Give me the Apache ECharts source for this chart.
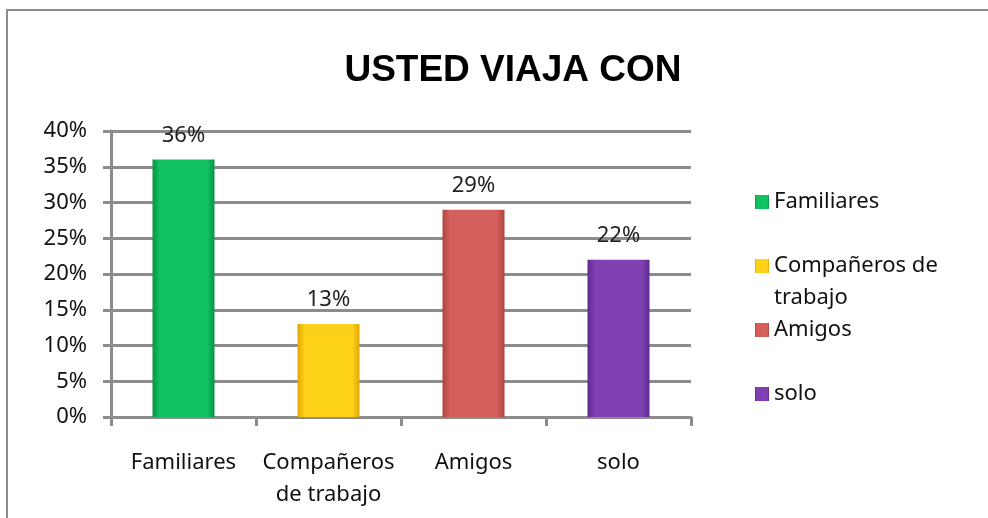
<!DOCTYPE html>
<html>
<head>
<meta charset="utf-8">
<script src="https://cdn.jsdelivr.net/npm/echarts@6/dist/echarts.min.js"></script>
<style>
  html, body { margin: 0; padding: 0; background: #fff; }
  #chart { width: 988px; height: 518px; }
</style>
</head>
<body>
<div id="chart"></div>
<script>
var titulo = 'USTED VIAJA CON';
var categorias = ['Familiares', 'Compañeros de trabajo', 'Amigos', 'solo'];
var porcentajes = [36, 13, 29, 22];
var yTicks = [0, 5, 10, 15, 20, 25, 30, 35, 40];

// colores de las barras (borde oscuro, centro claro)
var colores = [
    ['#079446', '#12c260'],
    ['#e0a800', '#ffd21a'],
    ['#b04440', '#d4605c'],
    ['#5e2a8c', '#8040b4']
];

var myChart = echarts.init(document.getElementById('chart'));

var series = categorias.map(function(nombre, i) {
    var datos = categorias.map(function(c, j) { return j === i ? porcentajes[i] : null; });
    return {
        name: nombre,
        type: 'bar',
        stack: 'total',
        barWidth: 62,
        data: datos,
        itemStyle: {
            color: new echarts.graphic.LinearGradient(0, 0, 1, 0, [
                {offset: 0, color: colores[i][0]},
                {offset: 0.12, color: colores[i][1]},
                {offset: 0.88, color: colores[i][1]},
                {offset: 1, color: colores[i][0]}
            ])
        },
        label: {
            show: true,
            position: 'top',
            distance: 13,
            formatter: '{c}%',
            fontFamily: 'Noto Sans',
            fontSize: 22,
            color: '#222'
        }
    };
});

var legendTops = [181, 213, 309, 373];
var legends = categorias.map(function(nombre, i) {
    return {
        data: [nombre],
        orient: 'vertical',
        left: 750,
        top: legendTops[i],
        icon: 'rect',
        itemWidth: 14,
        itemHeight: 14,
        selectedMode: false,
        formatter: function(n) {
            if (n === 'Compañeros de trabajo') return ' \nCompañeros de\ntrabajo';
            return n;
        },
        textStyle: {
            fontFamily: 'Noto Sans',
            fontSize: 22,
            lineHeight: 32,
            color: '#111'
        }
    };
});

var option = {
    animation: false,
    title: {
        text: titulo,
        left: 508,
        textAlign: 'center',
        top: 47,
        textStyle: {
            fontFamily: 'Liberation Sans',
            fontWeight: 'bold',
            fontSize: 37,
            color: '#000'
        }
    },
    graphic: [{
        type: 'rect',
        shape: {x: 7, y: 10, width: 1000, height: 600},
        style: {fill: 'none', stroke: '#8c8c8c', lineWidth: 2}
    }],
    legend: legends,
    grid: {left: 111, right: 297, top: 131, bottom: 101},
    xAxis: {
        type: 'category',
        data: categorias,
        axisLine: {lineStyle: {color: '#8c8c8c', width: 3}},
        axisTick: {show: true, length: 9, lineStyle: {color: '#8c8c8c', width: 3}},
        axisLabel: {
            interval: 0,
            margin: 30,
            fontFamily: 'Noto Sans',
            fontSize: 22,
            lineHeight: 32,
            color: '#111',
            formatter: function(v) {
                return v === 'Compañeros de trabajo' ? 'Compañeros\nde trabajo' : v;
            }
        }
    },
    yAxis: {
        type: 'value',
        min: yTicks[0],
        max: yTicks[yTicks.length - 1],
        interval: yTicks[1] - yTicks[0],
        axisLine: {show: true, lineStyle: {color: '#8c8c8c', width: 3}},
        axisTick: {show: true, length: 8, lineStyle: {color: '#8c8c8c', width: 3}},
        splitLine: {lineStyle: {color: '#8c8c8c', width: 3}},
        axisLabel: {
            margin: 24,
            formatter: '{value}%',
            fontFamily: 'Noto Sans',
            fontSize: 22,
            color: '#111'
        }
    },
    series: series
};

myChart.setOption(option);
</script>
</body>
</html>
